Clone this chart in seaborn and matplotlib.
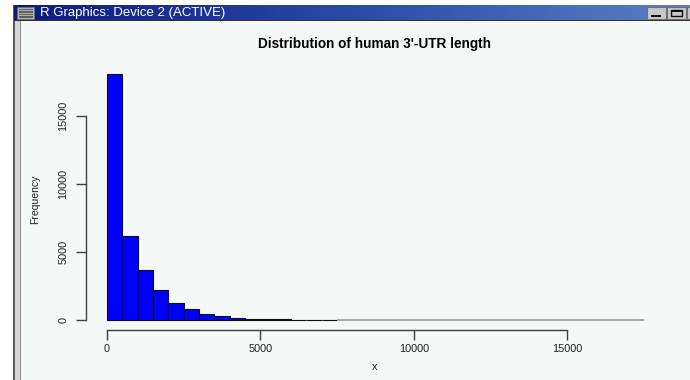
import numpy as np
import pandas as pd
import matplotlib
matplotlib.use("Agg")
import matplotlib.pyplot as plt
import seaborn as sns
from matplotlib.patches import Rectangle
from matplotlib.colors import LinearSegmentedColormap

# ---------------- data ----------------
bin_width = 500
bin_starts = [0, 500, 1000, 1500, 2000, 2500, 3000, 3500, 4000, 4500,
              5000, 5500, 6000, 6500, 7000, 7500, 8000, 8500, 9000, 9500,
              10000, 10500, 11000, 11500, 12000, 12500, 13000, 13500, 14000, 14500,
              15000, 15500, 16000, 16500, 17000]
counts = [18100, 6180, 3660, 2250, 1260, 800, 470, 310, 190, 120,
          90, 60, 45, 35, 25, 0, 0, 0, 0, 0,
          0, 0, 0, 0, 0, 0, 0, 0, 0, 0,
          0, 0, 0, 0, 0]
x_ticks = [0, 5000, 10000, 15000]
x_tick_labels = ["0", "5000", "10000", "15000"]
y_ticks = [0, 5000, 10000, 15000]
y_tick_labels = ["0", "5000", "10000", "15000"]
title = "Distribution of human 3'-UTR length"
x_label = "x"
y_label = "Frequency"
window_title = "R Graphics: Device 2 (ACTIVE)"

df = pd.DataFrame({"start": bin_starts, "count": counts})
df["center"] = df["start"] + bin_width / 2
edges = list(df["start"]) + [df["start"].iloc[-1] + bin_width]

# ---------------- figure ----------------
sns.set_style("ticks")
plt.rcParams['font.family'] = ['Liberation Sans', 'DejaVu Sans']

W, H = 690, 380
fig = plt.figure(figsize=(W / 100, H / 100), dpi=100, facecolor="white")


def rect(x0, y0, x1, y1, fc, ec="none", lw=0, z=0):
    fig.add_artist(Rectangle((x0 / W, 1 - y1 / H), (x1 - x0) / W, (y1 - y0) / H,
                             transform=fig.transFigure, facecolor=fc,
                             edgecolor=ec, linewidth=lw, zorder=z))


# window chrome
bg = "#f4f8f6"
rect(21, 21, W, H, bg)
rect(13, 5, 21, H, "#d6d6d6")
rect(13, 5, 14.5, H, "#5a5a5a")
rect(19.5, 21, 21, H, "#8a8a8a")

# title bar gradient
tb = fig.add_axes([14 / W, 1 - 20 / H, (W - 14) / W, 15 / H])
grad = np.linspace(0, 1, 256).reshape(1, -1)
cm = LinearSegmentedColormap.from_list("tb", ["#0c1a80", "#2a4aa8", "#5a80c6"])
tb.imshow(grad, aspect="auto", cmap=cm, extent=[0, 1, 0, 1])
tb.set_axis_off()
rect(14, 20, W, 21.2, "#303030", z=5)
fig.text(40 / W, 1 - 13 / H, window_title, color="white", fontsize=9.5,
         va="center", ha="left", zorder=10)
# menu icon
rect(17, 7, 34, 19, "#b0b0b0", ec="#707070", lw=0.6, z=6)
for yy in (9, 11.5, 14, 16.5):
    rect(18.5, yy, 32.5, yy + 1, "#606060", z=7)
# buttons
for bx in (647, 667, 687):
    rect(bx, 7, bx + 19, 19, "#c8c8c8", ec="#707070", lw=0.8, z=6)
rect(651, 15, 661, 16.5, "#101010", z=7)
rect(671, 10, 682, 16, "none", ec="#101010", lw=1.0, z=7)
rect(671, 10, 682, 11.5, "#101010", z=7)
rect(691, 10, 700, 16, "none", ec="#101010", lw=1.0, z=7)

# ---------------- plot ----------------
ax_l, ax_r, ax_t, ax_b = 85.5, 665.5, 64, 330
ax = fig.add_axes([ax_l / W, 1 - ax_b / H, (ax_r - ax_l) / W, (ax_b - ax_t) / H])
ax.set_facecolor(bg)

sns.histplot(data=df, x="center", weights="count", bins=edges, ax=ax,
             color="#0000ff", edgecolor="#101010", linewidth=0.8, alpha=1)
for p in ax.patches:
    if p.get_height() == 0:
        p.set_edgecolor("#a0a0a0")
        p.set_linewidth(1.3)

ymax = max(counts)
xspan = edges[-1] - edges[0]
ax.set_xlim(edges[0] - 0.04 * xspan, edges[-1] + 0.04 * xspan)
ax.set_ylim(-0.04 * ymax, ymax * 1.04)

for s in ("top", "right"):
    ax.spines[s].set_visible(False)
for s in ("left", "bottom"):
    ax.spines[s].set_visible(True)
    ax.spines[s].set_color("#404040")
    ax.spines[s].set_linewidth(1.0)
ax.spines["bottom"].set_bounds(x_ticks[0], x_ticks[-1])
ax.spines["left"].set_bounds(y_ticks[0], y_ticks[-1])

ax.set_xticks(x_ticks)
ax.set_xticklabels(x_tick_labels)
ax.set_yticks(y_ticks)
ax.set_yticklabels(y_tick_labels, rotation=90, va="center")
ax.tick_params(axis="both", which="major", bottom=True, left=True,
               top=False, right=False, direction="out",
               length=7, width=1, color="#404040",
               labelsize=7.8, labelcolor="#202020")
ax.tick_params(axis="x", pad=3.2)
ax.tick_params(axis="y", pad=5.5)
ax.set_xlabel("")
ax.set_ylabel("")

fig.text(375 / W, 1 - 367 / H, x_label, fontsize=7.8, ha="center", va="center", color="#202020")
fig.text(35 / W, 1 - 199 / H, y_label, fontsize=7.5, ha="center", va="center",
         rotation=90, color="#202020")
fig.text(374 / W, 1 - 44 / H, title, fontsize=9.8, fontweight="bold",
         ha="center", va="center", color="black")

fig.savefig("out.png", dpi=100, facecolor="white")
